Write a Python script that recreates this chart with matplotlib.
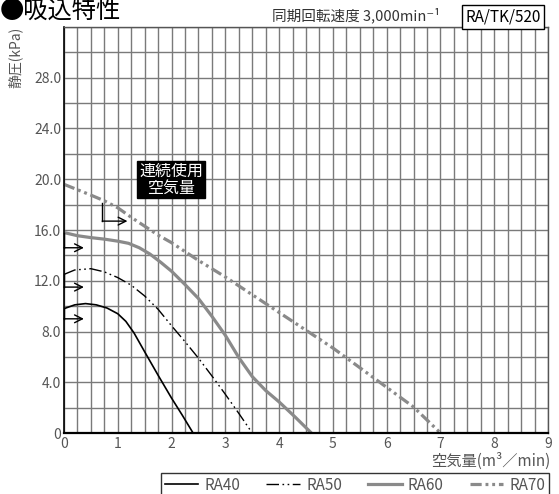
import matplotlib
matplotlib.use("Agg")
import matplotlib.pyplot as plt
from matplotlib.lines import Line2D

plt.rcParams['font.family'] = ['Noto Sans CJK JP', 'DejaVu Sans']

# ---- data ----
ra40_x = [0, 0.2, 0.4, 0.6, 0.8, 1.0, 1.15, 1.3, 1.5, 1.75, 2.0, 2.2, 2.4]
ra40_y = [9.8, 10.1, 10.2, 10.1, 9.85, 9.4, 8.8, 7.9, 6.4, 4.55, 2.75, 1.4, 0]

ra50_x = [0, 0.2, 0.5, 0.75, 1.0, 1.25, 1.5, 1.75, 2.0, 2.25, 2.5, 2.75, 3.0, 3.25, 3.5]
ra50_y = [12.5, 12.85, 12.95, 12.7, 12.25, 11.65, 10.8, 9.75, 8.45, 7.2, 5.9, 4.5, 3.05, 1.55, 0]

ra60_x = [0, 0.25, 0.5, 0.75, 1.0, 1.2, 1.4, 1.6, 1.8, 2.0, 2.25, 2.5, 2.75, 3.0, 3.25, 3.5, 3.75, 4.0, 4.3, 4.6]
ra60_y = [15.8, 15.55, 15.4, 15.28, 15.12, 14.95, 14.6, 14.1, 13.45, 12.75, 11.7, 10.6, 9.2, 7.7, 5.95, 4.45, 3.35, 2.45, 1.25, 0]

ra70_x = [0, 0.5, 0.75, 1.0, 1.25, 1.5, 1.75, 2.0, 2.5, 3.0, 3.5, 4.0, 4.5, 5.0, 5.5, 6.0, 6.5, 7.0]
ra70_y = [19.6, 18.75, 18.3, 17.75, 17.0, 16.3, 15.6, 15.0, 13.6, 12.3, 10.9, 9.5, 8.1, 6.7, 5.15, 3.6, 2.05, 0]

series_labels = ['RA40', 'RA50', 'RA60', 'RA70']

# continuous-use airflow markers: (x start, y top, y arrow, x arrow end)
arrow_x0 = [0, 0, 0, 0.71]
arrow_ytop = [9.8, 12.5, 15.8, 18.15]
arrow_y = [9.0, 11.5, 14.6, 16.7]
arrow_x1 = [0.37, 0.37, 0.37, 1.18]

x_ticks = list(range(0, 10))
y_ticks = [0, 4, 8, 12, 16, 20, 24, 28]
y_ticklabels = ['0', '4.0', '8.0', '12.0', '16.0', '20.0', '24.0', '28.0']

GRAY = '#8a8a8a'
TXT = '#555555'

fig = plt.figure(figsize=(5.59, 4.94), dpi=100)
ax = fig.add_axes([64/559, 61/494, 484/559, 406/494])

ax.set_xlim(0, 9)
ax.set_ylim(0, 32)

# grid
ax.set_xticks([i*0.25 for i in range(37)], minor=True)
ax.set_yticks([i*2 for i in range(17)], minor=True)
ax.set_xticks(x_ticks)
ax.set_yticks(y_ticks)
ax.set_xticklabels([str(v) for v in x_ticks])
ax.set_yticklabels(y_ticklabels)
ax.grid(which='both', color='#7a7a7a', linewidth=1.0)
ax.set_axisbelow(True)
ax.tick_params(which='both', length=0, colors=TXT, labelsize=10)
ax.tick_params(axis='x', pad=3)
ax.tick_params(axis='y', pad=2)

for s in ['top', 'right']:
    ax.spines[s].set_color('#555555')
    ax.spines[s].set_linewidth(1.0)
ax.spines['left'].set_color('black')
ax.spines['left'].set_linewidth(1.2)
ax.spines['bottom'].set_color('black')
ax.spines['bottom'].set_linewidth(1.6)

styles = [
    dict(color='black', lw=1.2, ls='-'),
    dict(color='black', lw=1.0, ls=(0, (9, 2.5, 1.2, 2.5, 1.2, 2.5))),
    dict(color=GRAY, lw=2.3, ls='-'),
    dict(color=GRAY, lw=2.3, ls=(0, (3.5, 1.2, 0.9, 1.2, 0.9, 1.2))),
]
xs = [ra40_x, ra50_x, ra60_x, ra70_x]
ys = [ra40_y, ra50_y, ra60_y, ra70_y]
handles = []
for x, y, st, lab in zip(xs, ys, styles, series_labels):
    ax.plot(x, y, solid_capstyle='butt', dash_capstyle='butt',
            solid_joinstyle='round', **st, clip_on=False)
    handles.append(Line2D([], [], **st))

# arrows
for x0, yt, ya, x1 in zip(arrow_x0, arrow_ytop, arrow_y, arrow_x1):
    ax.plot([x0, x0], [yt, ya], color='black', lw=1.0, clip_on=False)
    ax.annotate('', xy=(x1, ya), xytext=(x0, ya),
                arrowprops=dict(arrowstyle='->', color='black', lw=1.0,
                                mutation_scale=14, shrinkA=0, shrinkB=0))

ax.text(1.99, 19.95, '連続使用\n空気量', color='white', fontsize=11.5,
        ha='center', va='center', linespacing=0.95,
        bbox=dict(facecolor='black', edgecolor='black', boxstyle='square,pad=0.12'))

# texts
fig.text(0.0, 1 + 2/494, '●吸込特性', fontsize=17.5, ha='left', va='top', color='black')
fig.text(440/559, 1 - 15/494, '同期回転速度 3,000min⁻¹', fontsize=10.5, ha='right',
         va='center', color='#333333')
fig.text(503/559, 1 - 17/494, 'RA/TK/520', fontsize=11, ha='center', va='center',
         color='black',
         bbox=dict(facecolor='white', edgecolor='black', linewidth=1.0,
                   boxstyle='square,pad=0.22'))
fig.text(15/559, 1 - 57/494, '静圧(kPa)', fontsize=10, rotation=90, ha='center',
         va='center', color=TXT)
fig.text(550/559, 1 - 461/494, '空気量(m³／min)', fontsize=11, ha='right',
         va='center', color=TXT)

leg = fig.legend(handles, series_labels, ncol=4, loc='upper right',
                 bbox_to_anchor=(549/559, 1 - 473/494), frameon=True,
                 fancybox=False, edgecolor='black', fontsize=11,
                 handlelength=2.2, columnspacing=1.7, handletextpad=0.4,
                 borderpad=0.25, borderaxespad=0.0, labelcolor=TXT)
leg.get_frame().set_linewidth(1.0)

fig.savefig('out.png', dpi=100)
